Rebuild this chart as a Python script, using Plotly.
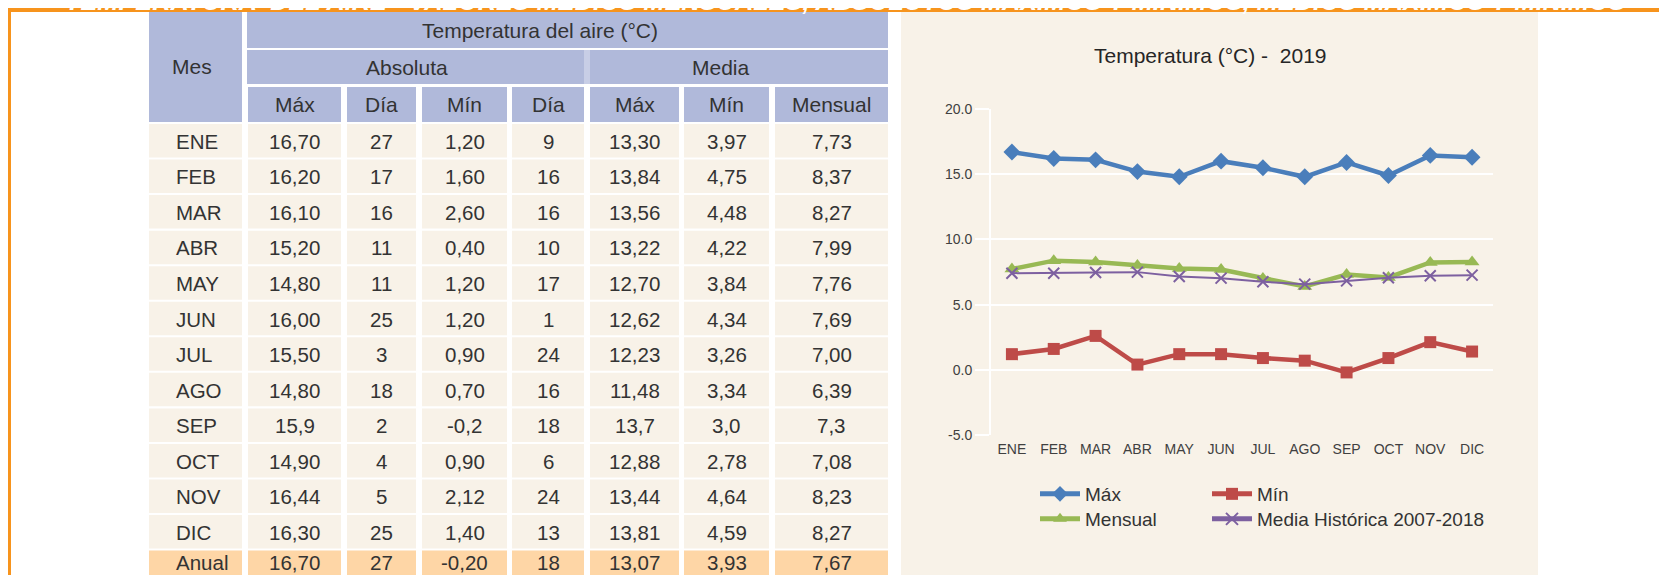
import plotly.graph_objects as go

# ---------------- data ----------------
meses = ["ENE", "FEB", "MAR", "ABR", "MAY", "JUN", "JUL", "AGO", "SEP", "OCT", "NOV", "DIC"]
abs_max = [16.70, 16.20, 16.10, 15.20, 14.80, 16.00, 15.50, 14.80, 15.9, 14.90, 16.44, 16.30]
abs_max_dia = [27, 17, 16, 11, 11, 25, 3, 18, 2, 4, 5, 25]
abs_min = [1.20, 1.60, 2.60, 0.40, 1.20, 1.20, 0.90, 0.70, -0.2, 0.90, 2.12, 1.40]
abs_min_dia = [9, 16, 16, 10, 17, 1, 24, 16, 18, 6, 24, 13]
media_max = [13.30, 13.84, 13.56, 13.22, 12.70, 12.62, 12.23, 11.48, 13.7, 12.88, 13.44, 13.81]
media_min = [3.97, 4.75, 4.48, 4.22, 3.84, 4.34, 3.26, 3.34, 3.0, 2.78, 4.64, 4.59]
mensual = [7.73, 8.37, 8.27, 7.99, 7.76, 7.69, 7.00, 6.39, 7.3, 7.08, 8.23, 8.27]
decimales = [2, 2, 2, 2, 2, 2, 2, 2, 1, 2, 2, 2]
anual_label = "Anual"
anual = [16.70, 27, -0.20, 18, 13.07, 3.93, 7.67]
historica = [7.41, 7.41, 7.46, 7.49, 7.16, 7.03, 6.75, 6.57, 6.82, 7.06, 7.21, 7.26]

y_ticks = [-5, 0, 5, 10, 15, 20]
y_tick_labels = ["-5.0", "0.0", "5.0", "10.0", "15.0", "20.0"]

titulo_barra = ("TEMPERATURA  DEL AIRE - VALORES MEDIOS MENSUALES, ABSOLUTOS MÁXIMOS Y MÍNIMOS, "
                "MEDIOS MÁXIMOS Y MÍNIMOS")
titulo_tabla = "Temperatura del aire (°C)"
titulo_grafico = "Temperatura (°C) -  2019"
sub_cabeceras = ["Máx", "Día", "Mín", "Día", "Máx", "Mín", "Mensual"]

# ---------------- layout constants ----------------
# window is 1667x583; the page body keeps its default 8px margin,
# so the figure is sized to fill exactly the remaining area.
WIN_W, WIN_H = 1667, 583
OFF = 8
W, H = WIN_W - 2 * OFF, WIN_H - 2 * OFF
FONT = "Liberation Sans, Arial, sans-serif"
ORANGE = "#f7941d"
HEAD = "#b0b9da"
CREAM = "#f8f2e8"
PEACH = "#fed6a6"
TXT = "#333333"


def px(x):
    """window pixel x -> paper fraction"""
    return (x - OFF) / W


def py(y):
    """window pixel y -> paper fraction"""
    return 1 - (y - OFF) / H


shapes = []
annotations = []


def rect(x0, y0, x1, y1, color, layer="below"):
    shapes.append(dict(type="rect", xref="paper", yref="paper", x0=px(x0), x1=px(x1),
                       y0=py(y1), y1=py(y0), fillcolor=color, line=dict(width=0), layer=layer))


def text(x, y, s, size=20, color=TXT, xanchor="center", family=FONT, **kw):
    annotations.append(dict(xref="paper", yref="paper", x=px(x), y=py(y), text=s, showarrow=False,
                            xanchor=xanchor, yanchor="middle",
                            font=dict(size=size, color=color, family=family), **kw))


def fmt(v, d):
    return f"{v:.{d}f}".replace(".", ",")


# frame
rect(0, 0, WIN_W, 12, ORANGE)
rect(0, 0, 11, WIN_H, ORANGE)
annotations.append(dict(xref="paper", yref="paper", x=px(63), y=py(17.5), text=f"<b><i>{titulo_barra}</i></b>",
                        showarrow=False, xanchor="left", yanchor="bottom",
                        font=dict(size=25.3, color="white", family=FONT)))

# table columns
cols = [(149, 242), (248, 341), (347, 416), (422, 507), (512, 584), (590, 679), (684, 769), (775, 888)]

# header
rect(149, 12, 242, 122, HEAD)
text(192, 66, "Mes", size=21)
rect(247, 12, 888, 48, HEAD)
text(540, 30, titulo_tabla, size=21)
rect(247, 50, 584, 84, HEAD)
rect(584, 50, 590, 84, "#c8cee6")
rect(590, 50, 888, 84, HEAD)
text(407, 67, "Absoluta", size=21)
text(721, 67, "Media", size=21)
for (x0, x1), s in zip(cols[1:], sub_cabeceras):
    rect(x0, 87, x1, 122, HEAD)
    text((x0 + x1) / 2, 105, s, size=21)

# body rows
pitch = 35.55
filas = []
for i, m in enumerate(meses):
    d = decimales[i]
    filas.append([m, fmt(abs_max[i], d), str(abs_max_dia[i]), fmt(abs_min[i], d), str(abs_min_dia[i]),
                  fmt(media_max[i], d), fmt(media_min[i], d), fmt(mensual[i], d)])
filas.append([anual_label, fmt(anual[0], 2), str(anual[1]), fmt(anual[2], 2), str(anual[3]),
              fmt(anual[4], 2), fmt(anual[5], 2), fmt(anual[6], 2)])

for r, fila in enumerate(filas):
    y0 = 124 + r * pitch
    last = r == len(filas) - 1
    y1 = WIN_H if last else y0 + 33.5
    color = PEACH if last else CREAM
    # last row is partly below the visible area: keep its text fully inside
    ty = 562.5 if last else (y0 + y1) / 2 + 0.5
    for c, ((x0, x1), s) in enumerate(zip(cols, fila)):
        rect(x0, y0, x1, y1, color)
        if c == 0:
            text(174, ty, s, size=20.5, xanchor="left")
        else:
            text((x0 + x1) / 2, ty, s, size=20.5)

# chart panel
rect(901, 12, 1538, WIN_H, CREAM)
text(1210, 55, titulo_grafico, size=21, color="#262626")

# ---------------- chart ----------------
fig = go.Figure()
series = [
    ("Máx", abs_max, "#4a7ebb", 4.5, dict(symbol="diamond", size=13), "legend", (1035, 475)),
    ("Mín", abs_min, "#be4b48", 4.5, dict(symbol="square", size=12), "legend2", (1207, 475)),
    ("Mensual", mensual, "#98b954", 4.5, dict(symbol="triangle-up", size=13), "legend3", (1035, 500)),
    ("Media Histórica 2007-2018", historica, "#7d60a0", 2,
     dict(symbol="x-thin", size=11, line=dict(width=2, color="#7d60a0")), "legend4", (1207, 500)),
]
legend_layout = {}
for name, vals, color, lw, mk, lg, (lx, ly) in series:
    fig.add_trace(go.Scatter(x=meses, y=vals, name=name, mode="lines+markers",
                             line=dict(color=color, width=lw), marker=dict(color=color, **mk),
                             legend=lg, xaxis="x", yaxis="y"))
    legend_layout[lg] = dict(x=px(lx), y=py(ly), xanchor="left", yanchor="top", orientation="v",
                             font=dict(size=19, color="#333333", family=FONT),
                             bgcolor="rgba(0,0,0,0)", itemsizing="constant", itemwidth=40)

ymin, ymax = y_ticks[0], y_ticks[-1]
ydom = [py(435), py(109)]
zero_pos = ydom[0] + (0 - ymin) / (ymax - ymin) * (ydom[1] - ydom[0])
xdom = [px(991), px(1493)]

fig.update_layout(
    width=W, height=H, autosize=False,
    margin=dict(l=0, r=0, t=0, b=0, autoexpand=False),
    paper_bgcolor="white", plot_bgcolor="rgba(0,0,0,0)",
    font=dict(family=FONT, color="#404040"),
    shapes=shapes, annotations=annotations,
    xaxis=dict(domain=xdom, type="category", categoryorder="array", categoryarray=meses,
               range=[-0.5, len(meses) - 0.5], showgrid=False, showline=False, zeroline=False,
               ticks="", tickfont=dict(size=14, color="#404040"), anchor="y", ticklabelstandoff=4,
               automargin=False),
    xaxis2=dict(domain=xdom, overlaying="x", anchor="free", position=zero_pos, type="linear",
                range=[-0.5, len(meses) - 0.5], tickvals=[k + 0.5 for k in range(len(meses))],
                showticklabels=False, showgrid=False, zeroline=False, showline=False,
                ticks="outside", ticklen=4, tickwidth=2, tickcolor="white", automargin=False),
    yaxis=dict(domain=ydom, range=[ymin, ymax], tickvals=y_ticks, ticktext=y_tick_labels,
               showgrid=True, gridcolor="white", gridwidth=2, zeroline=False,
               showline=True, linecolor="white", linewidth=2,
               ticks="outside", ticklen=14, tickwidth=2, tickcolor="white",
               tickfont=dict(size=14, color="#404040"), anchor="x", automargin=False),
    showlegend=True,
    **legend_layout,
)

fig.write_html("out.html", config={"displayModeBar": False})
